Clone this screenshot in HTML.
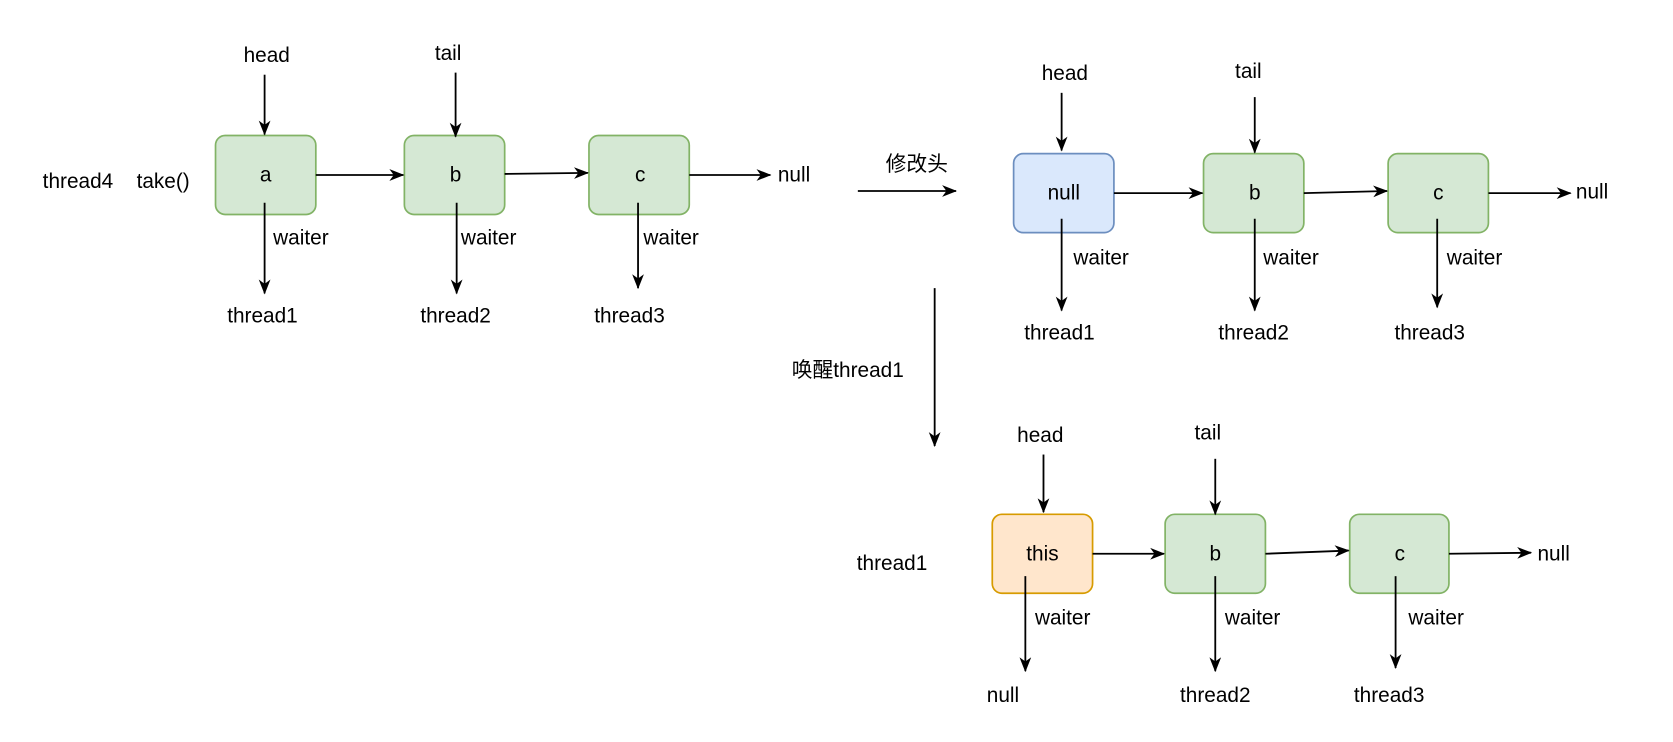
<!DOCTYPE html>
<html><head><meta charset="utf-8"><style>html,body{margin:0;padding:0;background:#fff}svg{display:block}</style></head>
<body>
<svg width="1673" height="742" viewBox="0 0 1568 695.4" xmlns="http://www.w3.org/2000/svg" font-family="Liberation Sans, Noto Sans CJK SC, sans-serif" font-size="19.5">
<defs><marker id="ar" markerWidth="14" markerHeight="14" refX="13" refY="7" orient="auto" markerUnits="userSpaceOnUse"><path d="M0,1.5 L14,7 L0,12.5 L4,7 Z" fill="#000"/></marker></defs>
<g fill="#d5e8d4" stroke="#82b366" stroke-width="1.6">
<rect x="202" y="127" width="94" height="74" rx="9"/><rect x="379" y="127" width="94" height="74" rx="9"/><rect x="552" y="127" width="94" height="74" rx="9"/>
<rect x="1128" y="144" width="94" height="74" rx="9"/><rect x="1301" y="144" width="94" height="74" rx="9"/>
<rect x="1092" y="482" width="94" height="74" rx="9"/><rect x="1265" y="482" width="93" height="74" rx="9"/>
</g>
<rect x="950" y="144" width="94" height="74" rx="9" fill="#dae8fc" stroke="#6c8ebf" stroke-width="1.6"/>
<rect x="930" y="482" width="94" height="74" rx="9" fill="#ffe6cc" stroke="#d79b00" stroke-width="1.6"/>
<g stroke="#000" stroke-width="1.7" marker-end="url(#ar)" fill="none">
<line x1="248" y1="70" x2="248" y2="126"/><line x1="427" y1="68" x2="427" y2="128"/>
<line x1="296" y1="164" x2="378" y2="164"/><line x1="473" y1="163" x2="551" y2="162"/><line x1="646" y1="164" x2="722" y2="164"/>
<line x1="248" y1="190" x2="248" y2="275"/><line x1="428" y1="190" x2="428" y2="275"/><line x1="598" y1="190" x2="598" y2="270"/>
<line x1="804" y1="179" x2="896" y2="179"/><line x1="876" y1="270" x2="876" y2="418"/>
<line x1="995" y1="87" x2="995" y2="141"/><line x1="1176" y1="91" x2="1176" y2="143"/>
<line x1="1044" y1="181" x2="1127" y2="181"/><line x1="1222" y1="181" x2="1300" y2="179"/><line x1="1395" y1="181" x2="1472" y2="181"/>
<line x1="995" y1="205" x2="995" y2="291"/><line x1="1176" y1="205" x2="1176" y2="291"/><line x1="1347" y1="205" x2="1347" y2="288"/>
<line x1="978" y1="426" x2="978" y2="480"/><line x1="1139" y1="430" x2="1139" y2="482"/>
<line x1="1024" y1="519" x2="1091" y2="519"/><line x1="1186" y1="519" x2="1264" y2="516"/><line x1="1358" y1="519" x2="1435" y2="518"/>
<line x1="961" y1="540" x2="961" y2="629"/><line x1="1139" y1="540" x2="1139" y2="629"/><line x1="1308" y1="540" x2="1308" y2="626"/>
</g>
<g text-anchor="middle" dominant-baseline="central" fill="#000">
<text x="249" y="164">a</text><text x="427" y="164">b</text><text x="600" y="164">c</text>
<text x="997" y="181">null</text><text x="1176" y="181">b</text><text x="1348" y="181">c</text>
<text x="977" y="519">this</text><text x="1139" y="519">b</text><text x="1312" y="519">c</text>
<text x="250" y="52">head</text><text x="420" y="50">tail</text>
<text x="998" y="69">head</text><text x="1170" y="67">tail</text>
<text x="975" y="408">head</text><text x="1132" y="406">tail</text>
<text x="246" y="296">thread1</text><text x="427" y="296">thread2</text><text x="590" y="296">thread3</text>
<text x="993" y="312">thread1</text><text x="1175" y="312">thread2</text><text x="1340" y="312">thread3</text>
<text x="940" y="652">null</text><text x="1139" y="652">thread2</text><text x="1302" y="652">thread3</text>
</g>
<g dominant-baseline="central" fill="#000">
<text x="256" y="223">waiter</text><text x="432" y="223">waiter</text><text x="603" y="223">waiter</text>
<text x="1006" y="242">waiter</text><text x="1184" y="242">waiter</text><text x="1356" y="242">waiter</text>
<text x="970" y="579">waiter</text><text x="1148" y="579">waiter</text><text x="1320" y="579">waiter</text>
<text x="729" y="164">null</text><text x="1477" y="180">null</text><text x="1441" y="519">null</text>
<text x="40" y="170">thread4</text><text x="128" y="170">take()</text>
<text x="830" y="154">修改头</text>
<text x="742" y="347">唤醒thread1</text>
<text x="803" y="528">thread1</text>
</g>
</svg>
</body></html>
